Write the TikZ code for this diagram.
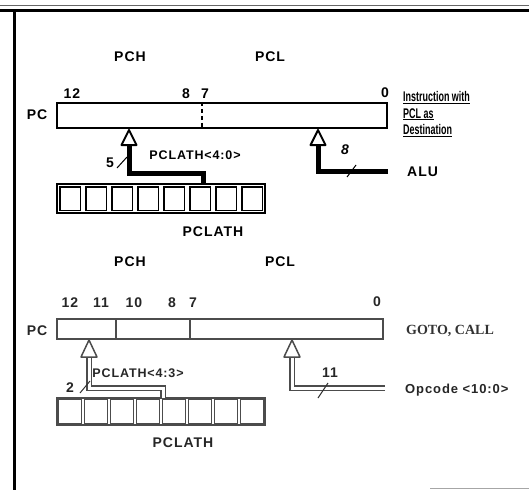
\documentclass[tikz,border=0pt]{standalone}
\usepackage{fontspec}
\setmainfont{Liberation Sans}[LetterSpace=7]
\newfontfamily\narrowfont{Liberation Sans}[FakeStretch=0.64]
\newfontfamily\serifbold{Liberation Serif}
\begin{document}
\begin{tikzpicture}[x=1pt,y=-1pt,
  lbl/.style={inner sep=0pt, font=\bfseries\fontsize{14}{16}\selectfont},
  lblB/.style={lbl, text=black!85},
  regA/.style={draw, line width=2.2pt, inner sep=0pt},
  regB/.style={draw=black!70, line width=1.4pt, inner sep=0pt},
  cellA/.style={draw, line width=1.8pt},
  cellB/.style={draw=black!70, line width=1.2pt},
  shaftA/.style={line width=5pt},
  shaftB/.style={draw=black!70, line width=1.1pt, double=white, double distance=3pt},
  headA/.style={draw, line width=2pt, fill=white, line join=round},
  headB/.style={draw=black!70, line width=1.5pt, fill=white, line join=round},
  tick/.style={line width=1pt}]
\useasboundingbox (0,0) rectangle (529,490);

% frame
\draw[line width=3pt] (0,10) -- (529,10);
\draw[line width=1pt, black!60] (0,5) -- (529,5);
\draw[line width=3pt] (14,9) -- (14,490);
\draw[line width=1pt, black!35] (430,488) -- (529,488);

% ================= top part =================
\node[lbl] (pchA) at (130,57) {PCH};
\node[lbl] (pclA) at (270,57) {PCL};
\node[lbl] (b12A) at (72,94) {12};
\node[lbl] (b8A) at (186,94) {8};
\node[lbl] (b7A) at (205,94) {7};
\node[lbl] (b0A) at (385,93) {0};
\node[lbl] (pcAl) at (37,115) {PC};
\node[regA, minimum width=330pt, minimum height=25pt] (pcA) at (222,115.5) {};
\draw[line width=2.2pt, dash pattern=on 4pt off 3pt] (pcA.north -| 202,0) -- (pcA.south -| 202,0);

\node[inner sep=0pt, anchor=west, align=left,
      font=\narrowfont\bfseries\fontsize{14}{16.5}\selectfont] (instr) at (403,114)
  {\underline{Instruction with}\\\underline{PCL as}\\\underline{Destination}};

% PCLATH register (top)
\node[regA, minimum width=208pt, minimum height=29pt] (lathA) at (161,198.5) {};
\foreach \i in {0,...,7} {
  \draw[cellA] (57+26*\i+2.6,186.6) rectangle (57+26*\i+26-2.6,210.4);
}
\node[lbl] (lathAl) at (213,232) {PCLATH};

% left arrow (top)
\coordinate (tipA1) at (129,130);
\coordinate (baseA1) at (129,145);
\coordinate (bendA1) at (129,173);
\coordinate (bendA2) at (203,173);
\coordinate (srcA) at (203,184);
\draw[shaftA] (baseA1) -- (bendA1) -- (bendA2) -- (srcA);
\draw[headA] (tipA1) -- (136.5,145) -- (121.5,145) -- cycle;
\draw[tick] (117,168) -- (127,157);
\node[lbl] (n5) at (110,163) {5};
\node[lbl, font=\bfseries\fontsize{12.5}{14}\selectfont] (lathA40) at (195,155) {PCLATH<4:0>};

% right arrow (top)
\coordinate (tipA2) at (318,130);
\coordinate (baseA2) at (318,145);
\coordinate (bendA3) at (318,171);
\coordinate (aluEnd) at (388,171);
\draw[shaftA] (aluEnd) -- (bendA3) -- (baseA2);
\draw[headA] (tipA2) -- (325.5,145) -- (310.5,145) -- cycle;
\draw[tick] (347,177) -- (356,165);
\node[lbl, font=\bfseries\itshape\fontsize{14}{16}\selectfont] (n8) at (345,150) {8};
\node[lbl, anchor=west] (alu) at (407,172) {ALU};

% ================= bottom part =================
\node[lbl] (pchB) at (130,262) {PCH};
\node[lbl] (pclB) at (280,262) {PCL};
\node[lblB] (b12B) at (70,303) {12};
\node[lblB] (b11B) at (101,303) {11};
\node[lblB] (b10B) at (134,303) {10};
\node[lblB] (b8B) at (172,303) {8};
\node[lblB] (b7B) at (193,303) {7};
\node[lblB] (b0B) at (377,302) {0};
\node[lblB] (pcBl) at (37,331) {PC};
\node[regB, minimum width=326pt, minimum height=20pt] (pcB) at (220,329) {};
\draw[regB] (pcB.north -| 116,0) -- (pcB.south -| 116,0);
\draw[regB] (pcB.north -| 190,0) -- (pcB.south -| 190,0);
\node[inner sep=0pt, anchor=west, text=black!80,
      font=\serifbold\bfseries\fontsize{14}{16}\selectfont] (goto) at (406,331) {GOTO, CALL};

% PCLATH register (bottom)
\node[regB, minimum width=208pt, minimum height=27pt] (lathB) at (161,411.5) {};
\foreach \i in {0,...,7} {
  \draw[cellB] (57+26*\i+1.8,399.8) rectangle (57+26*\i+26-1.8,423.2);
}
\node[lblB] (lathBl) at (183,443) {PCLATH};

% left arrow (bottom)
\coordinate (tipB1) at (89,340);
\coordinate (baseB1) at (89,357);
\coordinate (bendB1) at (89,388);
\coordinate (bendB2) at (163,388);
\coordinate (srcB) at (163,398);
\draw[shaftB] (baseB1) -- (bendB1) -- (bendB2) -- (srcB);
\draw[headB] (tipB1) -- (97,357) -- (81,357) -- cycle;
\draw[tick, black!80] (80,393) -- (90,381);
\node[lblB] (n2) at (70,388) {2};
\node[lblB, font=\bfseries\fontsize{12.5}{14}\selectfont] (lathB43) at (138,373) {PCLATH<4:3>};

% right arrow (bottom)
\coordinate (tipB2) at (292,340);
\coordinate (baseB2) at (292,357);
\coordinate (bendB3) at (292,388);
\coordinate (opEnd) at (385,388);
\draw[shaftB] (opEnd) -- (bendB3) -- (baseB2);
\draw[headB] (tipB2) -- (300,357) -- (284,357) -- cycle;
\draw[tick, black!80] (318,398) -- (328,383);
\node[lblB] (n11) at (330,373) {11};
\node[lblB, anchor=west, font=\bfseries\fontsize{13}{15}\selectfont] (opc) at (405,390) {Opcode <10:0>};
\end{tikzpicture}
\end{document}
